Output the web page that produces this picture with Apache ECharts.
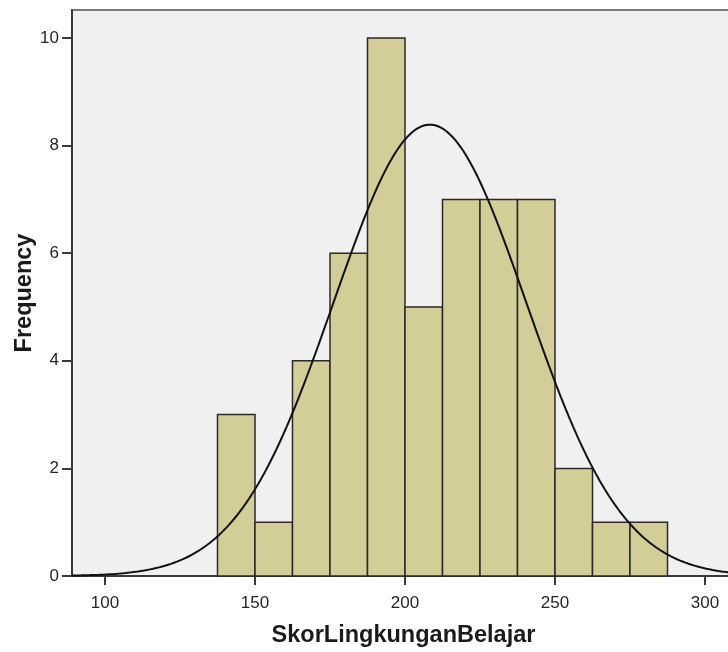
<!DOCTYPE html>
<html>
<head>
<meta charset="utf-8">
<script src="https://cdn.jsdelivr.net/npm/echarts@6/dist/echarts.min.js"></script>
<style>
  html, body { margin: 0; padding: 0; background: #ffffff; }
  #chart { width: 728px; height: 652px; }
</style>
</head>
<body>
<div id="chart"></div>
<script>
// Histogram bins of SkorLingkunganBelajar (bin width 12.5)
const binStarts = [137.5, 150, 162.5, 175, 187.5, 200, 212.5, 225, 237.5, 250, 262.5, 275];
const binWidth = 12.5;
const frequencies = [3, 1, 4, 6, 10, 5, 7, 7, 7, 2, 1, 1];

// Fitted normal distribution parameters
const sampleMean = 208.3;
const sampleSD = 32.1;
const sampleN = 54;

const xTicks = [100, 150, 200, 250, 300];
const yTicks = [0, 2, 4, 6, 8, 10];

const xMin = 89, xMax = 310;
const yMin = 0, yMax = 10.52;

// Histogram rectangles
const barData = binStarts.map((s, i) => [s, s + binWidth, frequencies[i]]);

// Normal density scaled to frequency counts
const curveData = [];
for (let x = xMin; x <= xMax; x += 0.5) {
  const z = (x - sampleMean) / sampleSD;
  const y = sampleN * binWidth / (sampleSD * Math.sqrt(2 * Math.PI)) * Math.exp(-0.5 * z * z);
  curveData.push([x, y]);
}

const chart = echarts.init(document.getElementById('chart'), null, { renderer: 'canvas' });

const fontFamily = '"Liberation Sans", Arial, sans-serif';

chart.setOption({
  animation: false,
  backgroundColor: '#ffffff',
  grid: {
    left: 72,
    top: 10,
    width: (xMax - xMin) * 3,
    height: 566,
    outerBoundsMode: 'none',
    containLabel: false,
    show: true,
    backgroundColor: '#f0f0f0',
    borderColor: '#7a7a7a',
    borderWidth: 2
  },
  xAxis: {
    type: 'value',
    min: xMin,
    max: xMax,
    name: 'SkorLingkunganBelajar',
    nameLocation: 'middle',
    nameGap: 48,
    nameTextStyle: { fontFamily, fontSize: 23.5, fontWeight: 'bold', color: '#1a1a1a' },
    axisLine: { show: true, onZero: false, lineStyle: { color: '#3a3a3a', width: 2 } },
    axisTick: { show: true, length: 9, lineStyle: { color: '#3a3a3a', width: 2 },
      customValues: xTicks },
    axisLabel: { fontFamily, fontSize: 17, color: '#262626', margin: 19,
      customValues: xTicks },
    splitLine: { show: false }
  },
  yAxis: {
    type: 'value',
    min: yMin,
    max: yMax,
    name: 'Frequency',
    nameLocation: 'middle',
    nameGap: 35,
    nameMoveOverlap: false,
    nameRotate: 90,
    nameTextStyle: { fontFamily, fontSize: 23.5, fontWeight: 'bold', color: '#1a1a1a' },
    axisLine: { show: true, lineStyle: { color: '#3a3a3a', width: 2 } },
    axisTick: { show: true, length: 10, lineStyle: { color: '#3a3a3a', width: 2 },
      customValues: yTicks },
    axisLabel: { fontFamily, fontSize: 17, color: '#262626', margin: 13,
      customValues: yTicks },
    splitLine: { show: false }
  },
  series: [
    {
      type: 'custom',
      data: barData,
      encode: { x: [0, 1], y: 2 },
      renderItem: function (params, api) {
        const p0 = api.coord([api.value(0), api.value(2)]);
        const p1 = api.coord([api.value(1), 0]);
        return {
          type: 'rect',
          shape: { x: p0[0], y: p0[1], width: p1[0] - p0[0], height: p1[1] - p0[1] },
          style: { fill: '#d3ce97', stroke: '#2a2a2a', lineWidth: 1.5 }
        };
      },
      z: 2
    },
    {
      type: 'line',
      data: curveData,
      showSymbol: false,
      smooth: false,
      lineStyle: { color: '#111111', width: 2 },
      z: 3
    }
  ]
});
</script>
</body>
</html>
